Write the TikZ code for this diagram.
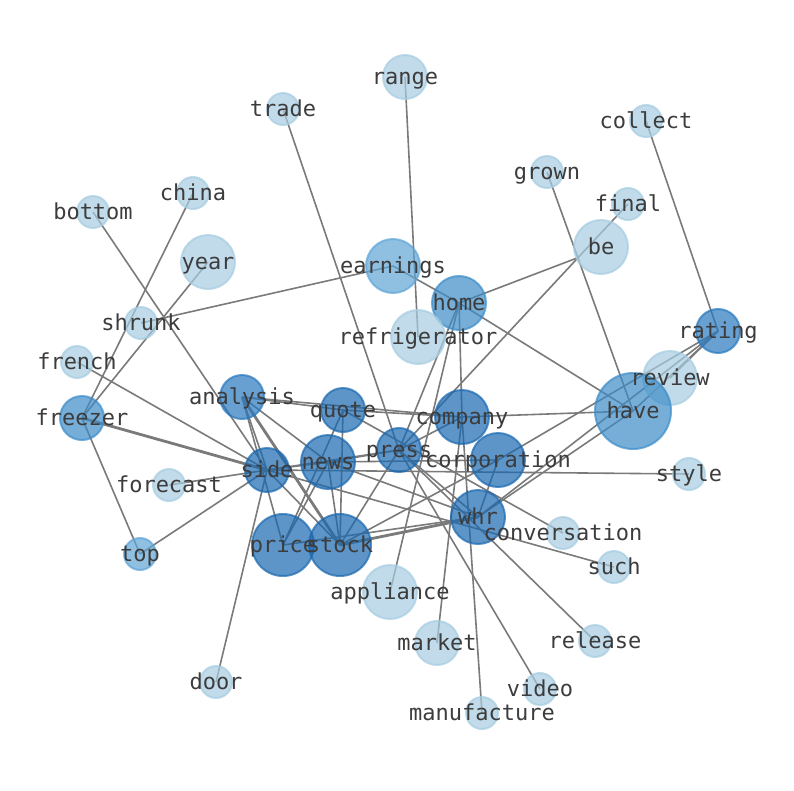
\documentclass[tikz,border=0pt]{standalone}
\usepackage{fontspec}
\setmonofont{DejaVu Sans Mono}
\definecolor{edgec}{RGB}{122,122,122}
\definecolor{lbc}{RGB}{60,60,60}
\definecolor{cdark}{RGB}{26,104,176}
\definecolor{cmdark}{RGB}{40,120,190}
\definecolor{cmid}{RGB}{60,140,200}
\definecolor{cmlight}{RGB}{95,165,214}
\definecolor{clight}{RGB}{166,204,225}
\begin{document}
\begin{tikzpicture}[x=1pt,y=-1pt,
  edge/.style={draw=edgec, line width=1.6pt},
  thk/.style={draw=edgec, line width=2.8pt},
  nd/.style 2 args={circle, inner sep=0pt, minimum size=#1, fill=#2, draw=#2, fill opacity=0.7, draw opacity=0.7, line width=2pt},
  lb/.style={inner sep=0pt, text=lbc, font=\ttfamily\fontsize{22}{24}\selectfont, text height=15pt, text depth=0pt}]
\useasboundingbox (0,0) rectangle (794,790);
% positions
\coordinate (range) at (405,77);
\coordinate (trade) at (283,109);
\coordinate (collect) at (646,121);
\coordinate (grown) at (547,172);
\coordinate (final) at (628,204);
\coordinate (china) at (193,193);
\coordinate (bottom) at (93,212);
\coordinate (be) at (601,247);
\coordinate (bej) at (577,258);
\coordinate (year) at (208,262);
\coordinate (earnings) at (393,266);
\coordinate (home) at (459,303);
\coordinate (shrunk) at (141,323);
\coordinate (refrigerator) at (418,337);
\coordinate (rating) at (718,331);
\coordinate (french) at (77,362);
\coordinate (review) at (670,378);
\coordinate (analysis) at (242,397);
\coordinate (freezer) at (82,418);
\coordinate (quote) at (343,410);
\coordinate (have) at (633,411);
\coordinate (company) at (462,417);
\coordinate (press) at (399,450);
\coordinate (news) at (328,462);
\coordinate (corporation) at (498,460);
\coordinate (side) at (267,470);
\coordinate (forecast) at (169,485);
\coordinate (style) at (689,474);
\coordinate (whr) at (478,517);
\coordinate (conversation) at (563,533);
\coordinate (stock) at (340,545);
\coordinate (price) at (283,545);
\coordinate (top) at (140,554);
\coordinate (such) at (614,567);
\coordinate (appliance) at (390,592);
\coordinate (market) at (437,643);
\coordinate (release) at (595,641);
\coordinate (door) at (216,682);
\coordinate (video) at (540,689);
\coordinate (manufacture) at (482,713);
% edges
\foreach \a/\b in {range/refrigerator, trade/press, collect/rating, grown/have, final/press, home/bej,
  china/freezer, bottom/side, year/freezer, shrunk/earnings, french/side, forecast/side, top/side, top/freezer,
  door/side, release/press, video/press, style/side, conversation/quote, such/side, earnings/home, home/have,
  home/company, company/manufacture, home/appliance, home/press, company/market, analysis/quote, analysis/company,
  quote/company, company/have, analysis/side, analysis/price, analysis/news, quote/price, quote/stock,
  news/price, news/stock, stock/press, stock/corporation, price/whr, have/whr, rating/have, rating/review,
  rating/whr, rating/corporation, news/corporation, side/news, news/press, press/whr, press/company, news/whr,
  side/stock, side/press, corporation/whr}
  \draw[edge] (\a) -- (\b);
\draw[thk] (freezer) -- (side);
\draw[thk] (analysis) -- (stock);
\draw[thk] (stock) -- (whr);
% nodes
\foreach \n/\r/\c in {range/44/clight, trade/32/clight, collect/32/clight, grown/32/clight, final/32/clight,
  china/32/clight, bottom/32/clight, be/54/clight, year/54/clight, earnings/54/cmlight, home/54/cmid,
  shrunk/32/clight, refrigerator/54/clight, rating/44/cmdark, french/32/clight, review/54/clight,
  analysis/44/cmdark, freezer/44/cmid, quote/44/cdark, have/76/cmid, company/54/cdark, press/44/cdark,
  news/54/cdark, corporation/54/cdark, side/44/cdark, forecast/32/clight, style/32/clight, whr/54/cdark,
  conversation/32/clight, stock/62/cdark, price/62/cdark, top/32/cmlight, such/32/clight, appliance/54/clight,
  market/44/clight, release/32/clight, door/32/clight, video/32/clight, manufacture/32/clight}
  \node[nd={\r pt}{\c}] (c-\n) at (\n) {};
% labels
\foreach \n in {range, trade, collect, grown, final, china, bottom, be, year, earnings, home, shrunk,
  refrigerator, rating, french, review, analysis, freezer, quote, have, company, press, news, corporation,
  side, forecast, style, whr, conversation, stock, price, top, such, appliance, market, release, door,
  video, manufacture}
  \node[lb] (l-\n) at (\n) {\n};
\end{tikzpicture}
\end{document}
